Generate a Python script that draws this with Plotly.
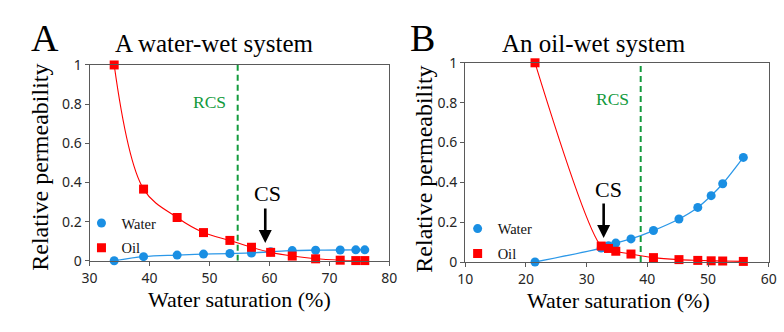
import plotly.graph_objects as go

# Panel A: water-wet system
sw_a = [34.1, 39.0, 44.6, 49.0, 53.4, 57.0, 60.2, 63.8, 67.7, 71.8, 74.4, 75.9]
krw_a = [0.0, 0.021, 0.029, 0.034, 0.037, 0.040, 0.046, 0.052, 0.054, 0.055, 0.056, 0.056]
kro_a = [1.0, 0.366, 0.221, 0.144, 0.104, 0.069, 0.043, 0.024, 0.010, 0.003, 0.001, 0.001]
rcs_a = 54.7

# Panel B: oil-wet system
sw_b = [21.5, 32.4, 33.6, 34.8, 37.3, 41.0, 45.2, 48.3, 50.5, 52.4, 55.8]
krw_b = [0.0, 0.070, 0.082, 0.095, 0.116, 0.158, 0.216, 0.274, 0.333, 0.393, 0.525]
kro_b = [1.0, 0.080, 0.068, 0.054, 0.040, 0.022, 0.012, 0.008, 0.006, 0.005, 0.003]
rcs_b = 38.9

x_ticks_a = [30, 40, 50, 60, 70, 80]
x_ticks_b = [10, 20, 30, 40, 50, 60]
y_ticks = [0, 0.2, 0.4, 0.6, 0.8, 1]

BLUE = "#1a8fe3"
BLUE_LINE = "#2c98e8"
RED = "#ff0000"
GREEN = "#129a3c"
SERIF = "Liberation Serif"
SANS = "Noto Sans"

W, H = 784, 332

fig = go.Figure()


def add_panel(sw, krw, kro, xa, ya, legend):
    # smoothed connecting curves
    fig.add_trace(go.Scatter(x=sw, y=krw, mode="lines", line=dict(color=BLUE_LINE, width=1.3, shape="spline", smoothing=1.0),
                             xaxis=xa, yaxis=ya, showlegend=False, hoverinfo="skip", cliponaxis=False))
    fig.add_trace(go.Scatter(x=sw, y=kro, mode="lines", line=dict(color=RED, width=1.1, shape="spline", smoothing=1.0),
                             xaxis=xa, yaxis=ya, showlegend=False, hoverinfo="skip", cliponaxis=False))
    # measured points
    fig.add_trace(go.Scatter(x=sw, y=krw, mode="markers", name="Water",
                             marker=dict(symbol="circle", size=9, color=BLUE),
                             xaxis=xa, yaxis=ya, legend=legend, legendgroup=legend + "w", cliponaxis=False))
    fig.add_trace(go.Scatter(x=sw, y=kro, mode="markers", name="Oil",
                             marker=dict(symbol="square", size=9, color=RED),
                             xaxis=xa, yaxis=ya, legend=legend, legendgroup=legend + "o", cliponaxis=False))


add_panel(sw_a, krw_a, kro_a, "x", "y", "legend")
add_panel(sw_b, krw_b, kro_b, "x2", "y2", "legend2")

# plot-area boxes in pixels
box_a = (83.3, 389.3, 58.3, 266.0)
box_b = (466.7, 776.7, 56.0, 267.3)


def dom(b):
    x0, x1, y0, y1 = b
    return [x0 / W, x1 / W], [1 - y1 / H, 1 - y0 / H]


xd_a, yd_a = dom(box_a)
xd_b, yd_b = dom(box_b)

axis_common = dict(showline=True, linecolor="#5a5a5a", linewidth=1, mirror=True,
                   ticks="outside", ticklen=4, tickcolor="#5a5a5a", showgrid=False, zeroline=False,
                   tickfont=dict(family=SANS, size=14, color="#262626"))

fig.update_layout(
    xaxis=dict(domain=xd_a, range=[30, 80], tickvals=x_ticks_a, anchor="y", **axis_common),
    yaxis=dict(domain=yd_a, range=[0, 1], tickvals=y_ticks, anchor="x", **axis_common),
    xaxis2=dict(domain=xd_b, range=[10, 60], tickvals=x_ticks_b, anchor="y2", **axis_common),
    yaxis2=dict(domain=yd_b, range=[0, 1], tickvals=y_ticks, anchor="x2", **axis_common),
)

legend_common = dict(font=dict(family=SERIF, size=14.5, color="#111111"), bgcolor="rgba(0,0,0,0)",
                     borderwidth=0, tracegroupgap=3, traceorder="grouped", itemwidth=30,
                     xanchor="left", yanchor="top")
fig.update_layout(
    legend=dict(x=75 / W, y=1 - 209 / H, **legend_common),
    legend2=dict(x=459 / W, y=1 - 215 / H, **legend_common),
)

# RCS dashed lines
for xa, ya, xv in (("x", "y", rcs_a), ("x2", "y2", rcs_b)):
    fig.add_shape(type="line", xref=xa, yref=ya, x0=xv, x1=xv, y0=0, y1=1,
                  line=dict(color=GREEN, width=2, dash="6px,4px"))

ann = []


def text(x, y, s, size, color="#000000", family=SERIF, angle=0):
    ann.append(dict(x=x / W, y=1 - y / H, xref="paper", yref="paper", text=s, showarrow=False,
                    font=dict(family=family, size=size, color=color), textangle=angle,
                    xanchor="center", yanchor="middle"))


# panel letters and titles
text(37.5, 30, "A", 38)
text(423, 30, "B", 38)
text(211, 36, "A water-wet system", 25)
text(598, 36, "An oil-wet system", 25)

# axis titles
text(236, 307, "Water saturation (%)", 22)
text(623, 308, "Water saturation (%)", 22)
text(33, 167, "Relative permeability", 24, angle=-90)
text(425, 169, "Relative permeability", 24, angle=-90)

# RCS labels
text(205.5, 97.5, "RCS", 17.5, color=GREEN)
text(616.7, 94.5, "RCS", 17.5, color=GREEN)

# CS labels and arrows
text(265, 194.5, "CS", 22)
text(612.5, 190.5, "CS", 22)
for xa, ya, xt, yt in (("x", "y", 59.3, 0.091), ("x2", "y2", 32.8, 0.121)):
    ann.append(dict(x=xt, y=yt, xref=xa, yref=ya, text="", showarrow=True, ax=0, ay=-36,
                    arrowhead=2, arrowsize=1, arrowwidth=2.6, arrowcolor="#000000"))

fig.update_layout(
    annotations=ann,
    width=W, height=H,
    margin=dict(l=0, r=0, t=0, b=0),
    paper_bgcolor="white", plot_bgcolor="white",
    font=dict(family=SERIF),
)

fig.write_html("out.html")
